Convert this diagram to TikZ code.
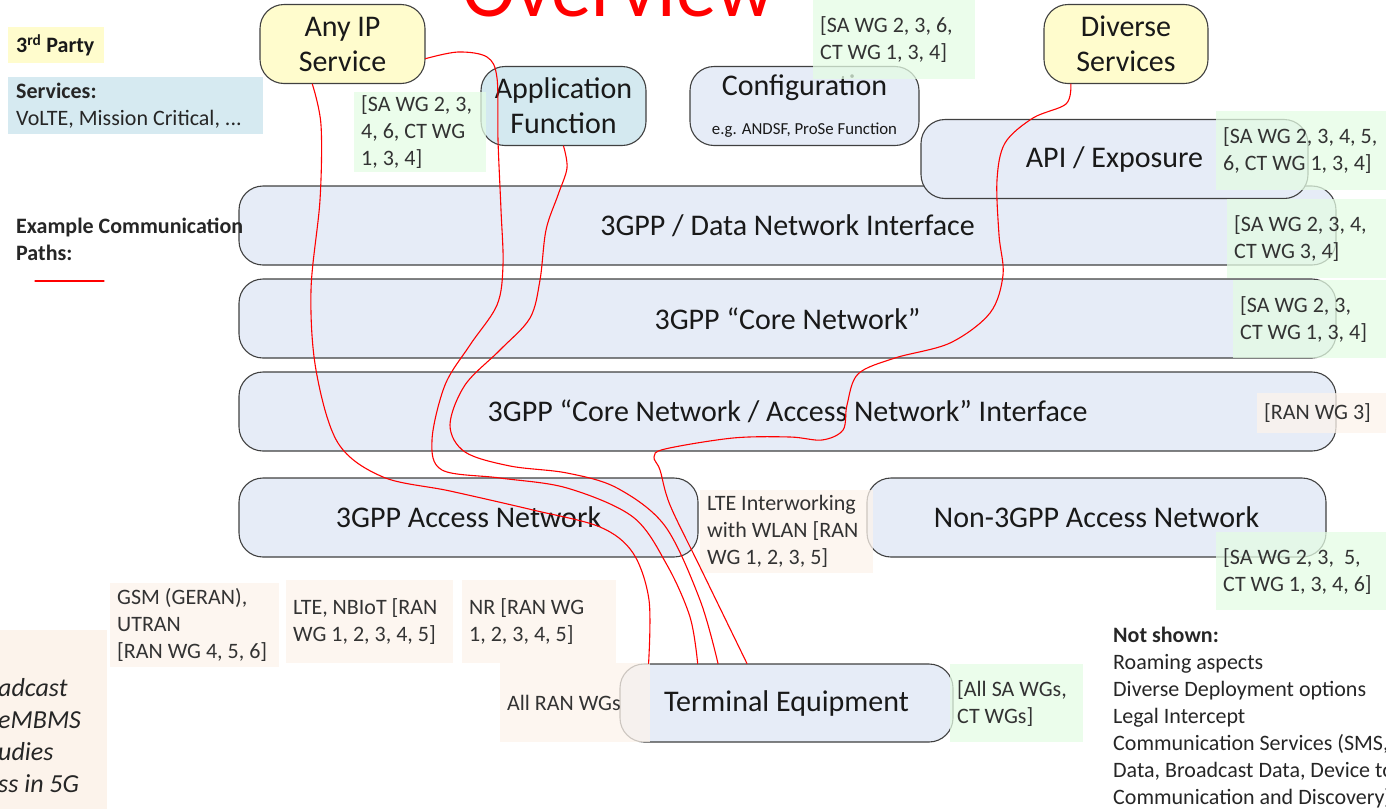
\documentclass[tikz,border=0pt]{standalone}
\usepackage{fontspec}
\setmainfont{Carlito}
\usepackage{tikz}

\definecolor{boxblue}{RGB}{230,236,247}
\definecolor{svcyellow}{RGB}{255,252,205}
\definecolor{afblue}{RGB}{212,233,240}
\definecolor{svcblue}{RGB}{214,234,241}
\definecolor{wggreen}{RGB}{228,252,228}
\definecolor{wgbeige}{RGB}{252,243,235}

\newcommand{\boxfont}{\fontsize{30}{35}\selectfont}
\newcommand{\wgfont}{\fontsize{22}{27}\selectfont}
\newcommand{\subfont}{\fontsize{16.8}{20}\selectfont}
\newcommand{\bcfont}{\fontsize{26}{32}\selectfont\itshape}
\newcommand{\titlefont}{\fontsize{81}{90}\selectfont}

\begin{document}
\begin{tikzpicture}[line cap=round,line join=round,x=1pt,y=-1pt,
  box/.style={draw=black!75,line width=1.1pt,rounded corners=24pt,fill=boxblue,
    minimum height=79pt,inner sep=0pt,font=\boxfont,text=black!90,align=center},
  lefttext/.style={align=left,execute at begin node={\spaceskip=0pt\xspaceskip=0pt}},
  wg/.style={lefttext,anchor=north west,inner xsep=7pt,inner ysep=0pt,font=\wgfont,
    text=black!80,fill=wggreen,fill opacity=0.75,text opacity=1},
  ranwg/.style={wg,fill=wgbeige},
  notetext/.style={anchor=north west,inner sep=0pt,align=left,font=\wgfont,text=black!85},
  commpath/.style={red,line width=1.1pt}]
\useasboundingbox (0,0) rectangle (1386,809);

\node [anchor=base,red,font=\titlefont,inner sep=0pt] (title) at (618,16) {Overview};

% network layers
\node [box,minimum width=1097pt] (dni) at (787.5,225.5) {3GPP / Data Network Interface};
\node [box,minimum width=1097pt] (core) at (787.5,318.5) {3GPP “Core Network”};
\node [box,minimum width=1097pt] (cnan) at (787.5,411.5) {3GPP “Core Network / Access Network” Interface};
\node [box,minimum width=459pt] (acc) at (468.5,517.5) {3GPP Access Network};
\node [box,minimum width=459pt] (non3gpp) at (1096.5,517.5) {Non-3GPP Access Network};
\node [box,minimum width=333pt,minimum height=78pt] (term) at (786.5,703) {Terminal Equipment};
\node [box,minimum width=387pt] (api) at (1114.5,159) {API / Exposure};
\node [box,fill=svcyellow,minimum width=165pt] (anyip) at (342.5,44) {Any IP\\Service};
\node [box,fill=afblue,minimum width=165pt] (appfn) at (563.5,106) {Application\\Function};
\node [box,minimum width=229pt] (config) at (804.5,106) {Configuration\\[4pt]{\subfont e.g. ANDSF, ProSe Function}};
\node [box,fill=svcyellow,minimum width=164pt] (diverse) at (1126,44) {Diverse\\Services};

% legend
\node [lefttext,anchor=north west,fill=svcyellow,minimum height=36pt,text width=80pt,inner xsep=8pt,
  inner ysep=0pt,font=\wgfont\bfseries,text=black!90] (party) at (8,27) {3\textsuperscript{rd} Party};
\node [lefttext,anchor=north west,fill=svcblue,minimum height=57pt,text width=239pt,inner xsep=8pt,
  inner ysep=0pt,font=\wgfont,text=black!85] (services) at (8,77) {\textbf{Services:}\\VoLTE, Mission Critical, ...};
\node [notetext,anchor=west,font=\wgfont\bfseries] (paths) at (16,239.5) {Example Communication\\Paths:};
\coordinate (lgA) at (35,281);
\coordinate (lgB) at (104,281);
\draw [commpath] (lgA) -- (lgB);

% working groups
\node [wg,text width=118pt,minimum height=80pt] (wgany) at (354,92) {[SA WG 2, 3,\\4, 6, CT WG\\1, 3, 4]};
\node [wg,text width=148pt,minimum height=79pt] (wgconfig) at (813,0) {[SA WG 2, 3, 6,\\CT WG 1, 3, 4]};
\node [wg,text width=166pt,minimum height=79pt] (wgapi) at (1216,111) {[SA WG 2, 3, 4, 5,\\6, CT WG 1, 3, 4]};
\node [wg,text width=160pt,minimum height=79pt] (wgdni) at (1227,199) {[SA WG 2, 3, 4,\\CT WG 3, 4]};
\node [wg,text width=160pt,minimum height=78pt] (wgcore) at (1233,280) {[SA WG 2, 3,\\CT WG 1, 3, 4]};
\node [ranwg,text width=130pt,minimum height=40pt] (wgcnan) at (1257,393) {[RAN WG 3]};
\node [ranwg,text width=159pt,minimum height=83pt] (wgwlan) at (700,490) {LTE Interworking\\with WLAN [RAN\\WG 1, 2, 3, 5]};
\node [wg,text width=166pt,minimum height=78pt] (wgnon) at (1216,532) {[SA WG 2, 3, \ 5,\\CT WG 1, 3, 4, 6]};
\node [ranwg,text width=155pt,minimum height=84pt] (wggsm) at (110,583) {GSM (GERAN),\\UTRAN\\{[}RAN WG 4, 5, 6]};
\node [ranwg,text width=153pt,minimum height=83pt] (wglte) at (286,580) {LTE, NBIoT [RAN\\WG 1, 2, 3, 4, 5]};
\node [ranwg,text width=140pt,minimum height=83pt] (wgnr) at (462,580) {NR [RAN WG\\1, 2, 3, 4, 5]};
\node [ranwg,text width=136pt,minimum height=79pt] (wgallran) at (500,663) {All RAN WGs};
\node [wg,text width=119pt,minimum height=78pt] (wgterm) at (950,664) {[All SA WGs,\\CT WGs]};

\fill [wgbeige] (0,630) rectangle (107,809);
\node [notetext,font=\bcfont] (bcast) at (-2,678) {adcast\\eMBMS\\udies\\ss in 5G};

\node [notetext] (notshown) at (1113,627) {\textbf{Not shown:}\\Roaming aspects\\Diverse Deployment options\\Legal Intercept\\Communication Services (SMS,\\Data, Broadcast Data, Device to\\Communication and Discovery)};

% communication paths
\draw [commpath] plot [smooth,tension=0.55] coordinates {(anyip.233) (321,125) (320,200) (311,290) (316,370) (338,443) (383,477) (450,491) (533,510) (600,527) (633,553) (649,600) (term.164)};
\draw [commpath] plot [smooth,tension=0.55] coordinates {(anyip.-10) (458,52) (487,57) (497,78) (498,140) (501,210) (503,265) (497,305) (470,345) (445,385) (432,440) (442,470) (500,478) (567,488) (633,517) (667,565) (690,617) (term.156)};
\draw [commpath] plot [smooth,tension=0.55] coordinates {(appfn.south) (567,168) (558,195) (546,230) (540,280) (530,318) (500,350) (465,385) (450,425) (465,452) (510,466) (567,473) (617,488) (665,526) (700,600) (term.150)};
\draw [commpath] plot [smooth,tension=0.55] coordinates {(diverse.216) (1066,104) (1033,118) (1005,143) (997,180) (999,235) (1003,275) (990,313) (950,343) (895,358) (858,374) (847,405) (843,430) (822,440) (790,437) (733,438) (665,449) (654,457) (660,470) (670,505) (700,567) (term.135)};
\end{tikzpicture}
\end{document}
